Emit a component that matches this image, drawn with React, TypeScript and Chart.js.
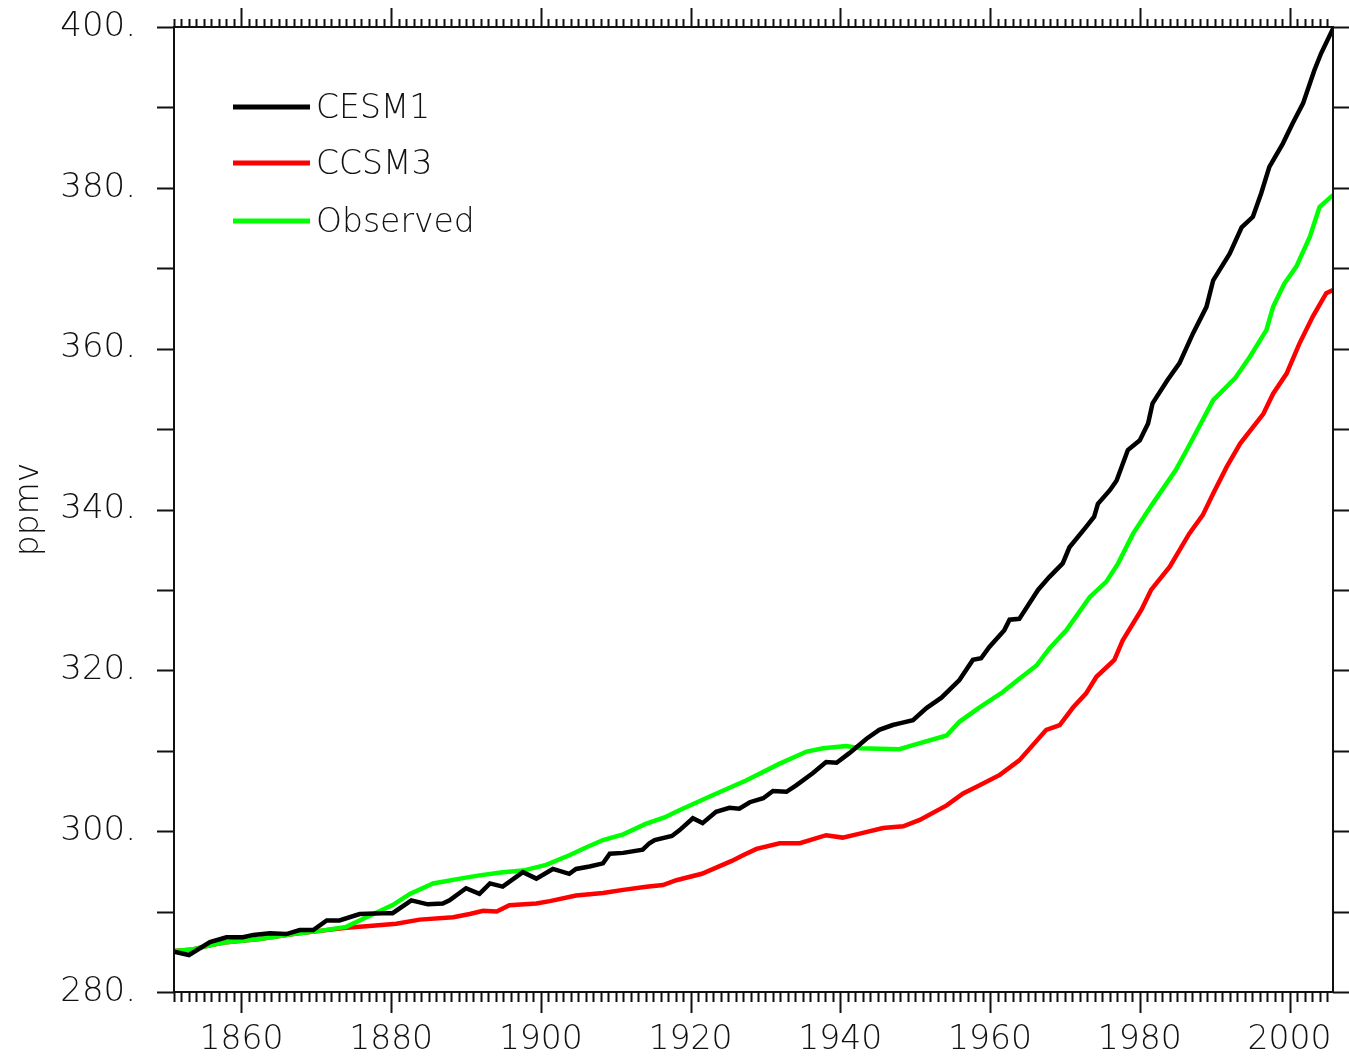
import { useEffect, useRef } from "react";
import { Chart, registerables } from "chart.js";

Chart.register(...registerables);

// Global-mean atmospheric CO2 (ppmv), 1851-2005
const cesm1Years = [
  1851, 1853, 1855.8, 1858, 1860.2, 1861.6, 1863.8, 1866, 1867.8, 1869.6,
  1871.4, 1873.1, 1875.8, 1878.9, 1880.2, 1882.7, 1884.9, 1886.9, 1887.8, 1890,
  1891.8, 1893.2, 1894.9, 1897.6, 1899.4, 1901.6, 1903.8, 1904.7, 1906.5, 1908.3,
  1909.2, 1911, 1913.6, 1914.5, 1915.2, 1917.5, 1918.5, 1920.3, 1921.6, 1923.4,
  1925.2, 1926.5, 1927.9, 1929.7, 1931, 1932.8, 1934.1, 1936.3, 1938.1, 1939.5,
  1941.2, 1943.5, 1945.2, 1947, 1947.9, 1949.7, 1951.5, 1953.5, 1955.9, 1957.7,
  1958.8, 1959.9, 1961.9, 1962.6, 1963.9, 1966.4, 1967.9, 1969.7, 1970.6, 1972.8,
  1973.9, 1974.4, 1976, 1976.9, 1978.4, 1980, 1981.1, 1981.7, 1983.7, 1985.3,
  1987.1, 1988.9, 1989.8, 1992, 1993.6, 1995.1, 1996.2, 1997.3, 1999.1, 2000.4,
  2001.8, 2003.3, 2004.2, 2005.8,
];
const cesm1Ppmv = [
  285.0, 284.6, 286.2, 286.8, 286.8, 287.1, 287.3, 287.2, 287.7, 287.7,
  288.9, 288.9, 289.7, 289.8, 289.8, 291.4, 290.9, 291.0, 291.4, 292.9,
  292.2, 293.5, 293.1, 294.9, 294.1, 295.3, 294.7, 295.3, 295.6, 296.0,
  297.2, 297.3, 297.7, 298.5, 298.9, 299.4, 300.1, 301.6, 301.0, 302.4,
  302.9, 302.8, 303.6, 304.1, 305.0, 304.9, 305.7, 307.2, 308.6, 308.5,
  309.7, 311.5, 312.6, 313.2, 313.4, 313.8, 315.3, 316.6, 318.8, 321.3,
  321.5, 322.9, 325.0, 326.3, 326.4, 330.0, 331.6, 333.3, 335.3, 337.8,
  339.1, 340.7, 342.4, 343.6, 347.4, 348.6, 350.7, 353.2, 356.1, 358.2,
  361.9, 365.2, 368.5, 371.8, 375.1, 376.4, 379.3, 382.6, 385.5, 388.0,
  390.5, 394.6, 396.7, 399.8,
];

const ccsm3Years = [
  1851, 1853.5, 1855.8, 1858, 1862.4, 1866.9, 1870.5, 1874, 1877.1, 1880.7,
  1883.8, 1888.3, 1890.5, 1892.3, 1894.1, 1895.8, 1899.4, 1901.2, 1904.7, 1908.3,
  1911, 1914.1, 1916.3, 1918.1, 1919.4, 1921.5, 1923.5, 1925.5, 1927, 1928.8,
  1931.9, 1934.6, 1938.1, 1940.3, 1942.6, 1945.7, 1948.4, 1950.6, 1954.2, 1956.4,
  1958.6, 1961.3, 1963.9, 1967.5, 1969.3, 1971.1, 1972.8, 1974.2, 1976.6, 1977.7,
  1980.2, 1981.5, 1984, 1986.6, 1988.4, 1989.8, 1991.6, 1993.4, 1996.5, 1997.8,
  1999.6, 2001.3, 2003.1, 2004.9, 2005.8,
];
const ccsm3Ppmv = [
  285.1, 285.3, 285.8, 286.2, 286.6, 287.2, 287.6, 288.0, 288.2, 288.5,
  289.0, 289.3, 289.7, 290.1, 290.0, 290.8, 291.0, 291.3, 292.0, 292.3,
  292.7, 293.1, 293.3, 293.9, 294.2, 294.7, 295.5, 296.3, 297.0, 297.8,
  298.5, 298.5, 299.5, 299.2, 299.7, 300.4, 300.6, 301.4, 303.2, 304.7,
  305.7, 307.0, 308.8, 312.6, 313.2, 315.4, 317.1, 319.2, 321.3, 323.7,
  327.5, 330.0, 332.9, 337.0, 339.3, 342.0, 345.3, 348.2, 351.9, 354.4,
  356.9, 360.6, 364.0, 366.9, 367.3,
];

const observedYears = [
  1851, 1853.5, 1855.8, 1858, 1862.4, 1866.9, 1870.5, 1874, 1876.7, 1880.2,
  1882.5, 1885.6, 1889.2, 1891.8, 1894.9, 1897.6, 1900.7, 1903.8, 1906.1, 1908.3,
  1911, 1914, 1916.5, 1918.5, 1923, 1927.4, 1931.9, 1935.5, 1937.7, 1940.8,
  1942.6, 1947.9, 1949.7, 1954.2, 1955.9, 1958.6, 1961.7, 1963.7, 1966.2, 1967.9,
  1970.2, 1973.3, 1975.5, 1977.1, 1979.1, 1981.7, 1984.8, 1986.5, 1989.8, 1992.7,
  1994.7, 1996.9, 1997.8, 1999.3, 2000.9, 2002.7, 2004, 2005.8,
];
const observedPpmv = [
  285.1, 285.3, 285.8, 286.2, 286.6, 287.2, 287.6, 288.1, 289.3, 290.8,
  292.2, 293.5, 294.1, 294.5, 294.9, 295.1, 295.8, 297.0, 298.0, 298.9,
  299.6, 300.9, 301.7, 302.6, 304.5, 306.3, 308.4, 309.9, 310.3, 310.6,
  310.3, 310.2, 310.7, 311.9, 313.6, 315.4, 317.3, 318.8, 320.6, 322.7,
  325.0, 329.1, 331.0, 333.3, 337.0, 340.7, 344.9, 347.8, 353.6, 356.3,
  359.0, 362.3, 365.2, 368.1, 370.2, 373.9, 377.6, 379.1,
];

const seriesLabels = ["CESM1", "CCSM3", "Observed"];
const seriesColors = ["#000000", "#ff0000", "#00ff00"];

const xLabelYears = [1860, 1880, 1900, 1920, 1940, 1960, 1980, 2000];
const yLabelValues = [280, 300, 320, 340, 360, 380, 400];
const yMinorValues = [280, 290, 300, 310, 320, 330, 340, 350, 360, 370, 380, 390, 400];
const xMin = 1851;
const xMax = 2005.8;
const yMin = 280;
const yMax = 400;
const yAxisTitle = "ppmv";

const FONT_FAMILY = '"DejaVu Sans", sans-serif';
const FONT_WEIGHT = 200;
const TEXT_COLOR = "#111";

const toPoints = (xs: number[], ys: number[]) => xs.map((x, i) => ({ x, y: ys[i] }));

// keep the plot frame fixed: no extra room reserved for edge labels
const zeroPadding = (scale: any) => {
  scale.paddingTop = 0;
  scale.paddingBottom = 0;
  scale.paddingLeft = 0;
  scale.paddingRight = 0;
};

// Frame, year/ppmv tick marks and the in-plot legend
const framePlugin = {
  id: "frameTicksLegend",
  afterDraw(chart: any) {
    const { ctx, chartArea } = chart;
    const { left, right, top, bottom } = chartArea;
    const xs = chart.scales.x;
    const ys = chart.scales.y;
    ctx.save();
    ctx.strokeStyle = "#111";
    ctx.lineWidth = 2;
    ctx.strokeRect(left, top, right - left, bottom - top);

    ctx.beginPath();
    for (let yr = Math.ceil(xs.min); yr <= xs.max; yr++) {
      const px = Math.round(xs.getPixelForValue(yr)) + 0.5;
      const major = yr % 20 === 0;
      ctx.moveTo(px, bottom);
      ctx.lineTo(px, bottom + (major ? 21 : 10));
      ctx.moveTo(px, top);
      ctx.lineTo(px, top - (major ? 19 : 8));
    }
    for (const v of yMinorValues) {
      const py = Math.round(ys.getPixelForValue(v)) + 0.5;
      ctx.moveTo(left - 17, py);
      ctx.lineTo(left, py);
      ctx.moveTo(right, py);
      ctx.lineTo(right + 17, py);
    }
    ctx.stroke();

    // legend
    const rowsY = [107, 163, 221];
    ctx.font = `${FONT_WEIGHT} 33px ${FONT_FAMILY}`;
    ctx.textBaseline = "middle";
    ctx.textAlign = "left";
    chart.data.datasets.forEach((ds: any, i: number) => {
      const y = rowsY[i];
      ctx.strokeStyle = ds.borderColor;
      ctx.lineWidth = 5;
      ctx.beginPath();
      ctx.moveTo(233, y);
      ctx.lineTo(310, y);
      ctx.stroke();
      ctx.fillStyle = TEXT_COLOR;
      ctx.fillText(ds.label, 316, y + 2);
    });
    ctx.restore();
  },
};

export default function App() {
  const canvasRef = useRef<HTMLCanvasElement | null>(null);

  useEffect(() => {
    document.body.style.margin = "0";
    document.body.style.overflow = "hidden";
    const canvas = canvasRef.current;
    if (!canvas) return;

    const seriesPoints = [
      toPoints(cesm1Years, cesm1Ppmv),
      toPoints(ccsm3Years, ccsm3Ppmv),
      toPoints(observedYears, observedPpmv),
    ];
    // draw CESM1 on top, then Observed, then CCSM3 underneath
    const drawOrder = [0, 2, 1];

    const chart = new Chart(canvas, {
      type: "line",
      data: {
        datasets: seriesPoints.map((pts, i) => ({
          label: seriesLabels[i],
          data: pts,
          borderColor: seriesColors[i],
          backgroundColor: seriesColors[i],
          borderWidth: 4.5,
          pointRadius: 0,
          tension: 0,
          fill: false,
          order: drawOrder[i],
        })),
      },
      options: {
        responsive: false,
        animation: false,
        parsing: false,
        layout: { padding: { left: 0, right: 16, top: 27, bottom: 0 } },
        plugins: {
          legend: { display: false },
          tooltip: { enabled: false },
        },
        scales: {
          x: {
            type: "linear",
            min: xMin,
            max: xMax,
            grid: { display: false },
            border: { display: false },
            afterBuildTicks: (scale: any) => {
              scale.ticks = xLabelYears.map((v) => ({ value: v }));
            },
            afterFit: (scale: any) => {
              scale.height = 64;
              zeroPadding(scale);
            },
            ticks: {
              autoSkip: false,
              maxRotation: 0,
              padding: 21,
              color: TEXT_COLOR,
              font: { family: FONT_FAMILY, size: 33, weight: FONT_WEIGHT },
              callback: (v: any) => String(v),
            },
          },
          y: {
            type: "linear",
            min: yMin,
            max: yMax,
            grid: { display: false },
            border: { display: false },
            afterBuildTicks: (scale: any) => {
              scale.ticks = yLabelValues.map((v) => ({ value: v }));
            },
            afterFit: (scale: any) => {
              scale.width = 174;
              zeroPadding(scale);
            },
            ticks: {
              autoSkip: false,
              padding: 30,
              color: TEXT_COLOR,
              font: { family: FONT_FAMILY, size: 34, weight: FONT_WEIGHT },
              callback: (v: any) => `${v}.`,
            },
            title: {
              display: true,
              text: yAxisTitle,
              color: TEXT_COLOR,
              font: { family: FONT_FAMILY, size: 33, weight: FONT_WEIGHT },
              padding: { top: 10, bottom: 0 },
            },
          },
        },
      },
      plugins: [framePlugin],
    });

    return () => chart.destroy();
  }, []);

  return (
    <div style={{ position: "absolute", left: 0, top: 0, width: 1349, height: 1056, background: "#fff" }}>
      <canvas ref={canvasRef} width={1349} height={1056} style={{ display: "block" }} />
    </div>
  );
}
